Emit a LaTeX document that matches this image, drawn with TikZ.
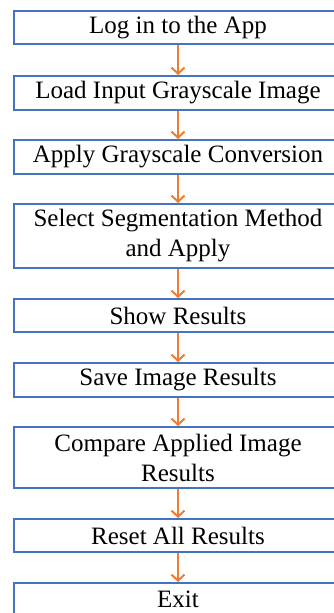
\documentclass[tikz,border=0pt]{standalone}
\usepackage{fontspec}
\setmainfont{Liberation Serif}
\usetikzlibrary{arrows.meta}
\definecolor{boxblue}{HTML}{4472C4}
\definecolor{flowor}{HTML}{ED7D31}

\begin{document}
\begin{tikzpicture}[
    x=1pt, y=1pt,
    every node/.style={font=\fontsize{25}{30}\selectfont},
    stepbox/.style={draw=boxblue, line width=2pt, rectangle, minimum width=328pt, minimum height=33pt, inner sep=0pt, align=center},
    flow/.style={draw=flowor, line width=2pt, -{Straight Barb[length=6pt, width=13pt]}}
]
    \useasboundingbox (0,0) rectangle (334,613);
    \clip (0,0) rectangle (334,613);

    \node[stepbox] (login) at (178, 585.5) {Log in to the App};
    \node[stepbox, minimum height=34pt] (load) at (178, 520) {Load Input Grayscale Image};
    \node[stepbox, minimum height=34pt] (gray) at (178, 456) {Apply Grayscale Conversion};
    \node[stepbox, minimum height=64pt] (seg) at (178, 377) {Select Segmentation Method\\and Apply};
    \node[stepbox] (show) at (178, 297.5) {Show Results};
    \node[stepbox, minimum height=34pt] (save) at (178, 233) {Save Image Results};
    \node[stepbox, minimum height=61pt] (comp) at (178, 155.5) {Compare Applied Image\\Results};
    \node[stepbox] (reset) at (178, 77.5) {Reset All Results};
    \node[stepbox] (exit) at (178, 13.5) {Exit};

    \draw[flow] (login) -- (load);
    \draw[flow] (load) -- (gray);
    \draw[flow] (gray) -- (seg);
    \draw[flow] (seg) -- (show);
    \draw[flow] (show) -- (save);
    \draw[flow] (save) -- (comp);
    \draw[flow] (comp) -- (reset);
    \draw[flow] (reset) -- (exit);
\end{tikzpicture}
\end{document}
